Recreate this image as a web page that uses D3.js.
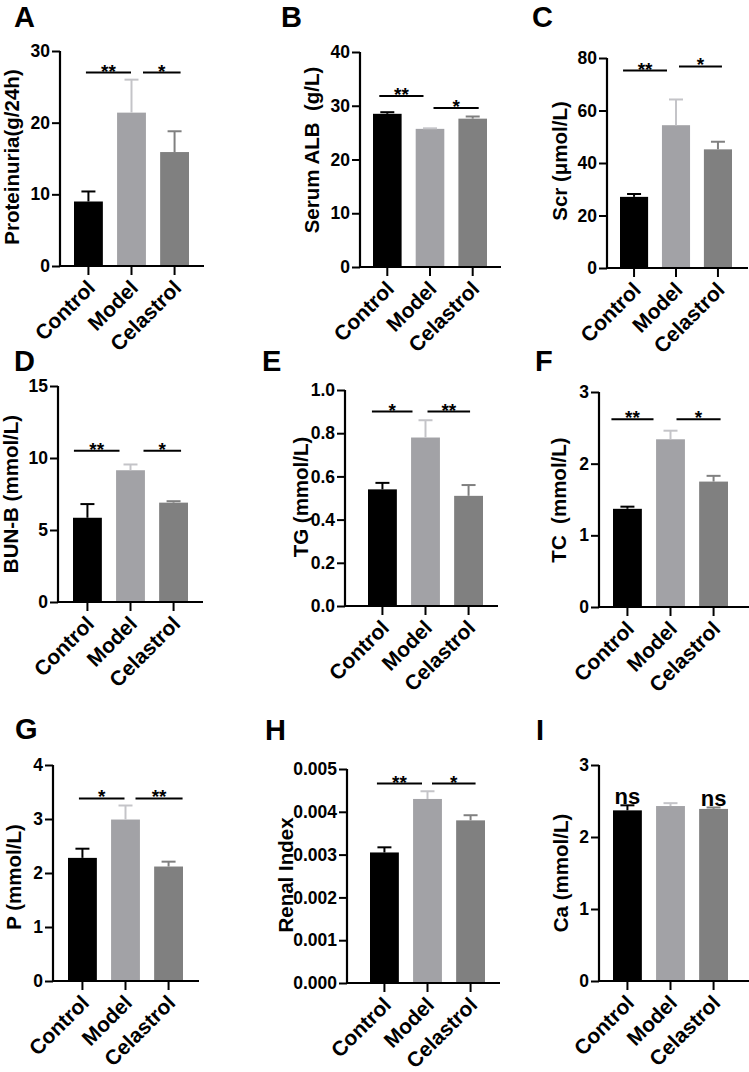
<!DOCTYPE html>
<html>
<head>
<meta charset="utf-8">
<script src="https://cdn.jsdelivr.net/npm/d3@7/dist/d3.min.js"></script>
<style>
  html, body { margin: 0; padding: 0; background: #fff; }
  svg { display: block; }
  text { font-family: "Liberation Sans", Arial, Helvetica, sans-serif; font-weight: bold; fill: #000; }
</style>
</head>
<body>
<svg id="chart" width="749" height="1072"></svg>
<script>
// ---------------- data ----------------
const categories = ["Control", "Model", "Celastrol"];

const proteinuriaMean = [9.0, 21.4, 15.9];
const proteinuriaErr  = [1.4, 4.6, 2.9];
const proteinuriaTicks = [0, 10, 20, 30];
const proteinuriaTickLabels = ["0", "10", "20", "30"];
const proteinuriaSig = [["Control", "Model", "**", 27], ["Model", "Celastrol", "*", 27]];

const albMean = [28.5, 25.7, 27.6];
const albErr  = [0.3, 0.1, 0.4];
const albTicks = [0, 10, 20, 30, 40];
const albTickLabels = ["0", "10", "20", "30", "40"];
const albSig = [["Control", "Model", "**", 31.8], ["Model", "Celastrol", "*", 29.6]];

const scrMean = [27.1, 54.4, 45.2];
const scrErr  = [1.1, 9.8, 2.9];
const scrTicks = [0, 20, 40, 60, 80];
const scrTickLabels = ["0", "20", "40", "60", "80"];
const scrSig = [["Control", "Model", "**", 75.2], ["Model", "Celastrol", "*", 76.8]];

const bunMean = [5.85, 9.15, 6.9];
const bunErr  = [0.95, 0.4, 0.1];
const bunTicks = [0, 5, 10, 15];
const bunTickLabels = ["0", "5", "10", "15"];
const bunSig = [["Control", "Model", "**", 10.5], ["Model", "Celastrol", "*", 10.5]];

const tgMean = [0.54, 0.78, 0.51];
const tgErr  = [0.03, 0.08, 0.05];
const tgTicks = [0, 0.2, 0.4, 0.6, 0.8, 1.0];
const tgTickLabels = ["0.0", "0.2", "0.4", "0.6", "0.8", "1.0"];
const tgSig = [["Control", "Model", "*", 0.9], ["Model", "Celastrol", "**", 0.9]];

const tcMean = [1.37, 2.34, 1.75];
const tcErr  = [0.03, 0.12, 0.08];
const tcTicks = [0, 1, 2, 3];
const tcTickLabels = ["0", "1", "2", "3"];
const tcSig = [["Control", "Model", "**", 2.62], ["Model", "Celastrol", "*", 2.62]];

const pMean = [2.28, 2.99, 2.12];
const pErr  = [0.17, 0.26, 0.09];
const pTicks = [0, 1, 2, 3, 4];
const pTickLabels = ["0", "1", "2", "3", "4"];
const pSig = [["Control", "Model", "*", 3.38], ["Model", "Celastrol", "**", 3.38]];

const renalMean = [0.00305, 0.0043, 0.0038];
const renalErr  = [0.00012, 0.00018, 0.00012];
const renalTicks = [0, 0.001, 0.002, 0.003, 0.004, 0.005];
const renalTickLabels = ["0.000", "0.001", "0.002", "0.003", "0.004", "0.005"];
const renalSig = [["Control", "Model", "**", 0.00466], ["Model", "Celastrol", "*", 0.00466]];

const caMean = [2.37, 2.43, 2.39];
const caErr  = [0.07, 0.04, 0.02];
const caTicks = [0, 1, 2, 3];
const caTickLabels = ["0", "1", "2", "3"];
const caNs = ["ns", "", "ns"];

// ---------------- styles ----------------
const barColors = ["#000000", "#a2a2a6", "#808080"];
const errColors = ["#000000", "#c4c4c8", "#808080"];

// ---------------- panels (layout) ----------------
const panels = [
  { letter: "A", lx: 14, ly: 27, title: "Proteinuria(g/24h)", tx: 19, ty: 157,
    mean: proteinuriaMean, err: proteinuriaErr, ticks: proteinuriaTicks, tickLabels: proteinuriaTickLabels, sig: proteinuriaSig,
    x0: 60, x1: 204, b0: 74, b1: 189, yTop: 51, yBase: 266, sigDx: [[-2.5, -0.5], [11.5, 6]] },
  { letter: "B", lx: 281, ly: 27, title: "Serum ALB  (g/L)", tx: 319, ty: 150,
    mean: albMean, err: albErr, ticks: albTicks, tickLabels: albTickLabels, sig: albSig,
    x0: 360, x1: 501, b0: 373, b1: 487, yTop: 52, yBase: 267, sigDx: [[-8, -6.5], [3.5, 6]] },
  { letter: "C", lx: 532, ly: 27, title: "Scr (\u03bcmol/L)", tx: 567, ty: 161,
    mean: scrMean, err: scrErr, ticks: scrTicks, tickLabels: scrTickLabels, sig: scrSig,
    x0: 607, x1: 748, b0: 620, b1: 732, yTop: 58, yBase: 268, sigDx: [[-11, -9], [3, 4]] },
  { letter: "D", lx: 14, ly: 371, title: "BUN-B (mmol/L)", tx: 18, ty: 494,
    mean: bunMean, err: bunErr, ticks: bunTicks, tickLabels: bunTickLabels, sig: bunSig,
    x0: 58, x1: 203, b0: 73, b1: 188, yTop: 386, yBase: 602, sigDx: [[-13.5, -11], [13, 7.5]] },
  { letter: "E", lx: 262, ly: 371, title: "TG (mmol/L)", tx: 308, ty: 497,
    mean: tgMean, err: tgErr, ticks: tgTicks, tickLabels: tgTickLabels, sig: tgSig,
    x0: 345, x1: 498, b0: 368, b1: 483, yTop: 390, yBase: 606, sigDx: [[-10.5, -13], [2, 1.5]] },
  { letter: "F", lx: 535, ly: 371, title: "TC  (mmol/L)", tx: 566, ty: 500,
    mean: tcMean, err: tcErr, ticks: tcTicks, tickLabels: tcTickLabels, sig: tcSig,
    x0: 599, x1: 752, b0: 613, b1: 728, yTop: 392, yBase: 607, sigDx: [[-16, -17], [6, 7]] },
  { letter: "G", lx: 15, ly: 739, title: "P (mmol/L)", tx: 21, ty: 877,
    mean: pMean, err: pErr, ticks: pTicks, tickLabels: pTickLabels, sig: pSig,
    x0: 53, x1: 199, b0: 68, b1: 183, yTop: 765, yBase: 981, sigDx: [[-3.5, -1], [10, 14]] },
  { letter: "H", lx: 265, ly: 740, title: "Renal Index", tx: 293, ty: 875,
    mean: renalMean, err: renalErr, ticks: renalTicks, tickLabels: renalTickLabels, sig: renalSig,
    x0: 347, x1: 500, b0: 370, b1: 485, yTop: 769, yBase: 983, sigDx: [[-7.5, -5.5], [4.5, 5]] },
  { letter: "I", lx: 536, ly: 740, title: "Ca (mmol/L)", tx: 568, ty: 873,
    mean: caMean, err: caErr, ticks: caTicks, tickLabels: caTickLabels, sig: [], ns: caNs,
    x0: 599, x1: 752, b0: 613, b1: 728, yTop: 765, yBase: 981, sigDx: [] }
];

const svg = d3.select("#chart");
svg.append("rect").attr("width", 749).attr("height", 1072).attr("fill", "#fff");

panels.forEach(p => {
  const g = svg.append("g");

  // panel letter
  g.append("text").attr("x", p.lx).attr("y", p.ly)
    .style("font-size", "29px").text(p.letter);

  const y = d3.scaleLinear()
    .domain([0, p.ticks[p.ticks.length - 1]])
    .range([p.yBase, p.yTop]);

  const x = d3.scaleBand()
    .domain(categories)
    .range([p.b0, p.b1])
    .paddingInner(0.33)
    .paddingOuter(0);

  const bw = x.bandwidth();

  // bars
  g.selectAll("rect.bar").data(categories).enter().append("rect")
    .attr("class", "bar")
    .attr("x", d => x(d))
    .attr("width", bw)
    .attr("y", (d, i) => y(p.mean[i]))
    .attr("height", (d, i) => p.yBase - y(p.mean[i]))
    .attr("fill", (d, i) => barColors[i]);

  // error bars (upper only)
  categories.forEach((c, i) => {
    const cx = x(c) + bw / 2;
    const top = y(p.mean[i] + p.err[i]);
    g.append("line")
      .attr("x1", cx).attr("x2", cx)
      .attr("y1", y(p.mean[i])).attr("y2", top)
      .attr("stroke", errColors[i]).attr("stroke-width", 2);
    g.append("line")
      .attr("x1", cx - 7).attr("x2", cx + 7)
      .attr("y1", top).attr("y2", top)
      .attr("stroke", errColors[i]).attr("stroke-width", 2);
  });

  // y axis
  const yAxis = d3.axisLeft(y)
    .tickValues(p.ticks)
    .tickFormat((d, i) => p.tickLabels[i])
    .tickSize(8)
    .tickSizeOuter(0)
    .tickPadding(2);
  const ya = g.append("g").attr("transform", `translate(${p.x0},0)`).call(yAxis);
  ya.select(".domain").attr("stroke", "#000").attr("stroke-width", 2.2)
    .attr("d", `M0,${p.yTop}V${p.yBase + 1}`);
  ya.selectAll(".tick line").attr("stroke", "#000").attr("stroke-width", 2);
  ya.selectAll(".tick text")
    .style("font-family", '"Liberation Sans", Arial, sans-serif')
    .style("font-weight", "bold")
    .style("font-size", "17.5px")
    .attr("fill", "#000");

  // x axis
  const xAxis = d3.axisBottom(x).tickSize(9).tickSizeOuter(0).tickFormat("");
  const xa = g.append("g").attr("transform", `translate(0,${p.yBase})`).call(xAxis);
  xa.select(".domain").remove();
  xa.selectAll(".tick line").attr("stroke", "#000").attr("stroke-width", 2);
  g.append("line")
    .attr("x1", p.x0 - 1).attr("x2", p.x1)
    .attr("y1", p.yBase).attr("y2", p.yBase)
    .attr("stroke", "#000").attr("stroke-width", 2.2);

  // category labels
  categories.forEach(c => {
    const cx = x(c) + bw / 2;
    g.append("text")
      .attr("transform", `translate(${cx + 8},${p.yBase + 23}) rotate(-45)`)
      .attr("text-anchor", "end")
      .style("font-size", "21px")
      .text(c);
  });

  // y title
  g.append("text")
    .attr("transform", `translate(${p.tx},${p.ty}) rotate(-90)`)
    .attr("text-anchor", "middle")
    .style("font-size", "20.5px")
    .style("white-space", "pre")
    .attr("xml:space", "preserve")
    .text(p.title);

  // significance lines
  p.sig.forEach((s, k) => {
    const xa1 = x(s[0]) + bw / 2 + p.sigDx[k][0];
    const xa2 = x(s[1]) + bw / 2 + p.sigDx[k][1];
    const yy = y(s[3]);
    g.append("line")
      .attr("x1", xa1).attr("x2", xa2)
      .attr("y1", yy).attr("y2", yy)
      .attr("stroke", "#000").attr("stroke-width", 2);
    g.append("text")
      .attr("x", (xa1 + xa2) / 2).attr("y", yy + 5)
      .attr("text-anchor", "middle")
      .style("font-size", "19px")
      .text(s[2]);
  });

  // ns labels
  if (p.ns) {
    categories.forEach((c, i) => {
      if (!p.ns[i]) return;
      g.append("text")
        .attr("x", x(c) + bw / 2)
        .attr("y", y(p.mean[i] + p.err[i]) - 1)
        .attr("text-anchor", "middle")
        .style("font-size", "22px")
        .text(p.ns[i]);
    });
  }
});
</script>
</body>
</html>
